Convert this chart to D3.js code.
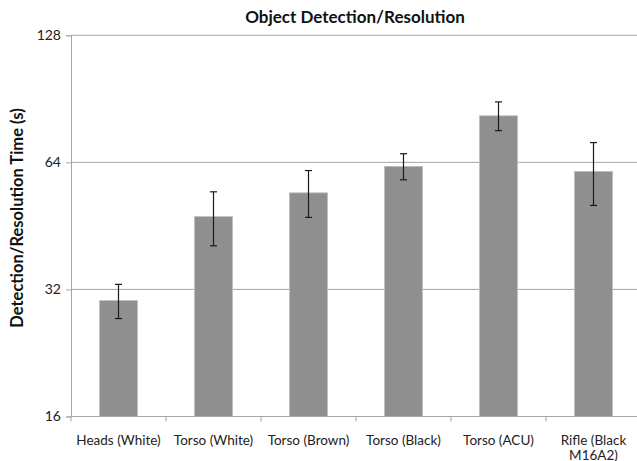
<!DOCTYPE html>
<html><head><meta charset="utf-8">
<script src="https://cdn.jsdelivr.net/npm/d3@7"></script>
<style>body{margin:0;background:#fff}svg{display:block}</style>
</head><body>
<svg id="c" width="637" height="461"></svg>
<script>
const categories = ["Heads (White)", "Torso (White)", "Torso (Brown)", "Torso (Black)", "Torso (ACU)", "Rifle (Black M16A2)"];
const means = [30.1, 47.6, 54.2, 62.6, 82.5, 60.9];
const errLow = [27.3, 40.6, 47.4, 58.2, 76.1, 50.6];
const errHigh = [32.9, 54.5, 61.2, 67.1, 89.0, 71.3];
const yTicks = [16, 32, 64, 128];

const svg = d3.select("#c");
const font = "Lato, 'Open Sans', sans-serif";
const pLeft = 71, pRight = 641, pTop = 35.3, pBottom = 416.5;

const x = d3.scaleBand().domain(categories).range([pLeft, pRight]).paddingInner(0.6).paddingOuter(0.3);
const y = d3.scaleLog().base(2).domain([16, 128]).range([pBottom, pTop]);

// gridlines
svg.append("g").selectAll("line").data(yTicks.filter(d => d > 16)).join("line")
  .attr("x1", pLeft).attr("x2", 637).attr("y1", d => y(d)).attr("y2", d => y(d))
  .attr("stroke", "#a6a6a6").attr("stroke-width", 1);

// bars
svg.append("g").selectAll("rect").data(categories).join("rect")
  .attr("x", d => x(d)).attr("width", x.bandwidth())
  .attr("y", (d, i) => y(means[i])).attr("height", (d, i) => pBottom - y(means[i]))
  .attr("fill", "#8f8f8f").attr("stroke", "#bdbdbd").attr("stroke-width", 0.8);

// error bars
const eg = svg.append("g").attr("stroke", "#1a1a1a").attr("stroke-width", 1.2);
categories.forEach((c, i) => {
  const cx = x(c) + x.bandwidth() / 2;
  eg.append("line").attr("x1", cx).attr("x2", cx).attr("y1", y(errLow[i])).attr("y2", y(errHigh[i]));
  eg.append("line").attr("x1", cx - 3.5).attr("x2", cx + 3.5).attr("y1", y(errLow[i])).attr("y2", y(errLow[i]));
  eg.append("line").attr("x1", cx - 3.5).attr("x2", cx + 3.5).attr("y1", y(errHigh[i])).attr("y2", y(errHigh[i]));
});

// y axis
const ya = svg.append("g").attr("transform", `translate(${pLeft},0)`)
  .call(d3.axisLeft(y).tickValues(yTicks).tickFormat(d3.format("d")).tickSize(5).tickPadding(5));
ya.select(".domain").attr("stroke", "#a6a6a6");
ya.selectAll(".tick line").attr("stroke", "#a6a6a6");
ya.selectAll("text").attr("font-family", font).attr("font-size", 14).attr("fill", "#222");

// x axis
const xa = svg.append("g").attr("transform", `translate(0,${pBottom})`);
xa.append("line").attr("x1", pLeft).attr("x2", 637).attr("y1", 0).attr("y2", 0).attr("stroke", "#a6a6a6");
const bounds = d3.range(categories.length + 1).map(i => pLeft + i * x.step());
xa.selectAll(".tk").data(bounds).join("line").attr("class", "tk")
  .attr("x1", d => d).attr("x2", d => d).attr("y1", 0).attr("y2", 5).attr("stroke", "#a6a6a6");
const wrapped = {"Rifle (Black M16A2)": ["Rifle (Black", "M16A2)"]};
categories.forEach(c => {
  const lines = wrapped[c] || [c];
  const t = xa.append("text").attr("text-anchor", "middle").attr("font-family", font)
    .attr("font-size", 13.5).attr("fill", "#222");
  lines.forEach((l, j) => t.append("tspan").attr("x", x(c) + x.bandwidth() / 2).attr("y", 28 + j * 15).text(l));
});

// title
svg.append("text").attr("x", 355).attr("y", 23).attr("text-anchor", "middle")
  .attr("font-family", font).attr("font-weight", "bold").attr("font-size", 17).attr("fill", "#111")
  .text("Object Detection/Resolution");

// y label
svg.append("text").attr("transform", "translate(23,218) rotate(-90)").attr("text-anchor", "middle")
  .attr("font-family", font).attr("font-weight", "bold").attr("font-size", 16.5).attr("fill", "#111")
  .text("Detection/Resolution Time (s)");
</script>
</body></html>
